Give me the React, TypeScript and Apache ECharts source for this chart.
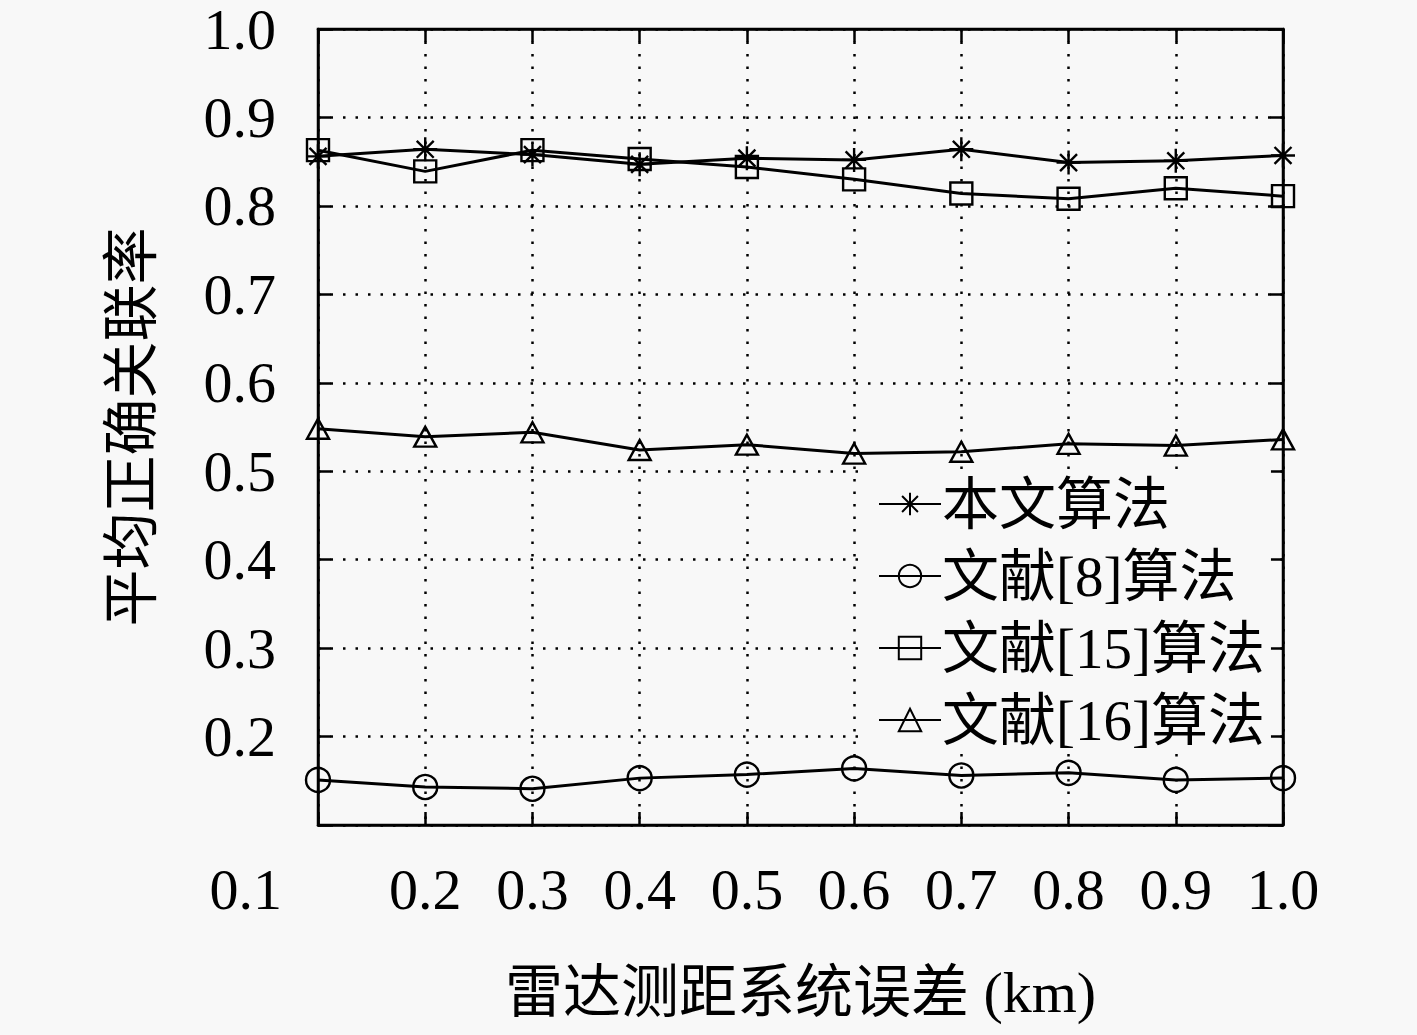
import React, { useEffect, useRef } from "react";
import * as echarts from "echarts";

const xValues = [0.1, 0.2, 0.3, 0.4, 0.5, 0.6, 0.7, 0.8, 0.9, 1.0];
const seriesNames = ["本文算法", "文献[8]算法", "文献[15]算法", "文献[16]算法"];
const oursValues = [0.856, 0.864, 0.858, 0.847, 0.854, 0.852, 0.864, 0.849, 0.851, 0.857];
const ref8Values = [0.151, 0.143, 0.141, 0.153, 0.157, 0.164, 0.156, 0.159, 0.151, 0.153];
const ref15Values = [0.863, 0.839, 0.863, 0.853, 0.844, 0.830, 0.814, 0.808, 0.820, 0.811];
const ref16Values = [0.548, 0.539, 0.544, 0.524, 0.530, 0.520, 0.522, 0.531, 0.529, 0.536];

const BG = "#f8f8f8";
const SERIF = "'Liberation Serif', 'Noto Sans CJK SC', serif";

const STAR = "path://M0,-10L0,10M-10,0L10,0M-7.07,-7.07L7.07,7.07M-7.07,7.07L7.07,-7.07";

export default function App() {
  const ref = useRef<HTMLDivElement>(null);
  useEffect(() => {
    if (!ref.current) return;
    const chart = echarts.init(ref.current, undefined, { renderer: "svg" });
    const pair = (vals: number[]) => xValues.map((x, i) => [x, vals[i]]);
    const lineStyle = { color: "#000", width: 3 };
    const hollow = { color: "rgba(0,0,0,0)", borderColor: "#000", borderWidth: 2.4 };
    const fmt1 = (v: number) => (Math.round(v * 10) / 10).toFixed(1);
    const dotted = { color: "#000", width: 2.5, type: [2.5, 10] as any };
    const axisLine = { show: true, lineStyle: { color: "#000", width: 2.5 } };
    const axisTick = { show: true, inside: true, length: 13, lineStyle: { color: "#000", width: 2.5 } };
    chart.setOption({
      animation: false,
      backgroundColor: BG,
      grid: {
        left: 318,
        right: 134,
        top: 22,
        bottom: 210,
        show: true,
        borderColor: "#000",
        borderWidth: 2.5,
        backgroundColor: "transparent",
      },
      legend: {
        orient: "vertical",
        left: 868,
        top: 470,
        backgroundColor: BG,
        padding: [4, 6, 4, 10],
        itemWidth: 62,
        itemHeight: 28,
        itemGap: 12,
        textStyle: { fontFamily: SERIF, fontSize: 57, color: "#000", lineHeight: 60, padding: [0, 0, 0, -4] },
        data: seriesNames,
      },
      xAxis: [
        {
          type: "value",
          min: 0.1,
          max: 1.0,
          interval: 0.1,
          axisLine,
          axisTick,
          splitLine: { show: true, lineStyle: dotted },
          axisLabel: {
            margin: 40,
            fontFamily: SERIF,
            fontSize: 58,
            lineHeight: 48,
            color: "#000",
            showMinLabel: true,
            showMaxLabel: true,
            alignMinLabel: "right",
            formatter: (v: number) => (Math.abs(v - 0.1) < 1e-6 ? "{s|0.1}" : fmt1(v)),
            rich: { s: { fontFamily: SERIF, fontSize: 58, lineHeight: 48, color: "#000", padding: [0, 36, 0, 0] } },
          },
          name: "雷达测距系统误差 (km)",
          nameLocation: "middle",
          nameGap: 138,
          nameTextStyle: { fontFamily: SERIF, fontSize: 58, color: "#000" },
        },
        {
          type: "value",
          position: "top",
          min: 0.1,
          max: 1.0,
          interval: 0.1,
          axisLine,
          axisTick,
          splitLine: { show: false },
          axisLabel: { show: false },
        },
      ],
      yAxis: [
        {
          type: "value",
          min: 0.1,
          max: 1.0,
          interval: 0.1,
          axisLine,
          axisTick,
          splitLine: { show: true, lineStyle: dotted },
          axisLabel: {
            margin: 42,
            fontFamily: SERIF,
            fontSize: 58,
            lineHeight: 40,
            color: "#000",
            formatter: (v: number) => (Math.abs(v - 0.1) < 1e-6 ? "" : fmt1(v)),
          },
          name: "平均正确关联率",
          nameLocation: "middle",
          nameGap: 158,
          nameTextStyle: { fontFamily: SERIF, fontSize: 57, color: "#000" },
        },
        {
          type: "value",
          position: "right",
          min: 0.1,
          max: 1.0,
          interval: 0.1,
          axisLine,
          axisTick,
          splitLine: { show: false },
          axisLabel: { show: false },
        },
      ],
      series: [
        {
          name: seriesNames[0],
          type: "line",
          data: pair(oursValues),
          symbol: STAR,
          symbolSize: 24,
          lineStyle,
          itemStyle: { color: "#000", borderColor: "#000", borderWidth: 2.4 },
          z: 4,
        },
        {
          name: seriesNames[1],
          type: "line",
          data: pair(ref8Values),
          symbol: "circle",
          symbolSize: 24,
          lineStyle,
          itemStyle: hollow,
        },
        {
          name: seriesNames[2],
          type: "line",
          data: pair(ref15Values),
          symbol: "rect",
          symbolSize: 22,
          lineStyle,
          itemStyle: hollow,
        },
        {
          name: seriesNames[3],
          type: "line",
          data: pair(ref16Values),
          symbol: "triangle",
          symbolSize: [22, 20],
          lineStyle,
          itemStyle: hollow,
        },
      ],
    });
    return () => chart.dispose();
  }, []);
  return (
    <div
      ref={ref}
      style={{ position: "absolute", left: 0, top: 0, width: 1417, height: 1035 }}
    />
  );
}
